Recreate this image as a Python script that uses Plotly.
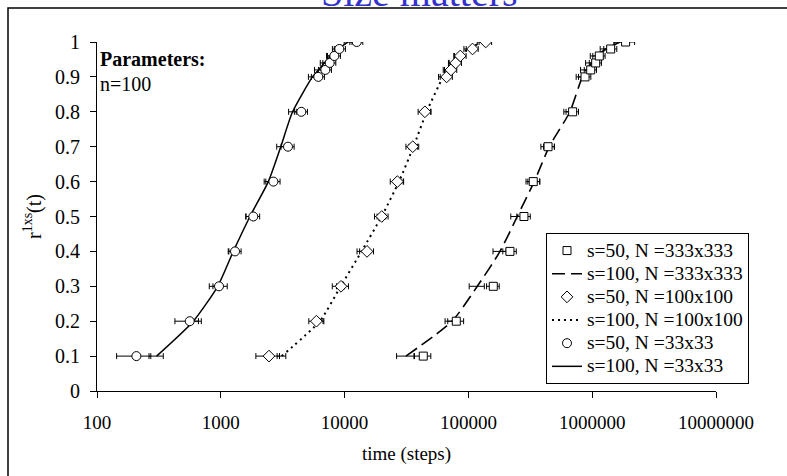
import plotly.graph_objects as go

# ---------------- data ----------------
y_levels = [0.1, 0.2, 0.3, 0.4, 0.5, 0.6, 0.7, 0.8, 0.9, 0.92, 0.94, 0.96, 0.98, 1.0]

# N = 333x333
sq_s50_x = [43200, 79800, 158800, 216600, 281000, 334000, 440000, 695000, 875000, 973000, 1067000, 1141000, 1410000, 1862000]
sq_s50_err = [6500, 11700, 18600, 27000, 35000, 42000, 55000, 80000, 100000, 110000, 120000, 130000, 170000, 340000]
sq_s100_x = [31300, 73800, 118000, 180000, 248000, 340000, 450000, 660000, 832000, 900000, 990000, 1080000, 1300000, 1675000]
sq_s100_err = [5000, 9000, 16500, 22000, 28000, 38000, 45000, 70000, 90000, 95000, 105000, 115000, 140000, 180000]

# N = 100x100
di_s50_x = [2450, 5920, 9350, 15170, 19950, 26680, 35500, 44560, 66700, 72300, 78900, 86000, 108000, 138000]
di_s50_err = [530, 780, 1400, 1950, 2500, 3300, 4200, 5300, 7500, 8200, 9000, 9800, 12000, 16000]
di_s100_x = [3100, 6300, 9300, 13700, 19900, 27500, 36000, 46000, 62400, 68000, 75000, 84000, 100000, 128000]
di_s100_err = [250, 500, 700, 1100, 1600, 2200, 2900, 3600, 5000, 5400, 6000, 6700, 8000, 10000]

# N = 33x33
ci_s50_x = [208, 561, 967, 1303, 1830, 2660, 3490, 4470, 6130, 6990, 7580, 8260, 9060, 12530]
ci_s50_err = [64, 135, 160, 155, 230, 350, 420, 540, 740, 840, 910, 990, 1090, 1500]
ci_s100_x = [303, 600, 944, 1262, 1720, 2420, 3050, 3800, 5500, 6150, 6850, 7700, 8900, 10700]
ci_s100_err = [40, 60, 80, 100, 130, 180, 220, 270, 400, 440, 490, 550, 640, 780]

x_tick_vals = [100, 1000, 10000, 100000, 1000000, 10000000]
x_tick_text = ["100", "1000", "10000", "100000", "1000000", "10000000"]

names = {
    "sq50": "s=50, N =333x333",
    "sq100": "s=100, N =333x333",
    "di50": "s=50, N =100x100",
    "di100": "s=100, N =100x100",
    "ci50": "s=50, N =33x33",
    "ci100": "s=100, N =33x33",
}

FONT = "Liberation Serif, Times New Roman, serif"
LEG_SPAN = "<span style='font-size:19.5px'>{}</span>"


def err(arr):
    return dict(type="data", array=arr, visible=True, color="black", thickness=1, width=3)


fig = go.Figure()

# lines (s=100)
for xs, es, key, dash, lw, rank in [
    (sq_s100_x, sq_s100_err, "sq100", "13px,6px", 1.6, 2),
    (di_s100_x, di_s100_err, "di100", "2px,4px", 2, 4),
    (ci_s100_x, ci_s100_err, "ci100", "solid", 1.5, 6),
]:
    fig.add_trace(go.Scatter(
        x=xs, y=y_levels, mode="lines", name=LEG_SPAN.format(names[key]),
        line=dict(color="black", width=lw, dash=dash, shape="spline", smoothing=0.6),
        error_x=err(es), legendrank=rank,
    ))

# markers (s=50)
for xs, es, key, sym, size, rank in [
    (sq_s50_x, sq_s50_err, "sq50", "square", 8, 1),
    (di_s50_x, di_s50_err, "di50", "diamond", 9, 3),
    (ci_s50_x, ci_s50_err, "ci50", "circle", 9, 5),
]:
    fig.add_trace(go.Scatter(
        x=xs, y=y_levels, mode="markers", name=LEG_SPAN.format(names[key]),
        marker=dict(symbol=sym, size=size, color="white", line=dict(color="black", width=1)),
        error_x=err(es), legendrank=rank,
    ))

PLOT_L, PLOT_T, PLOT_R, PLOT_B = 97, 42, 716, 391
W, H = 787, 476
pw = PLOT_R - PLOT_L
ph = PLOT_B - PLOT_T


def px2x(px):
    return (px - PLOT_L) / pw


def px2y(py):
    return (PLOT_B - py) / ph


fig.update_layout(
    width=W, height=H,
    margin=dict(l=PLOT_L, r=W - PLOT_R, t=PLOT_T, b=H - PLOT_B, autoexpand=False),
    paper_bgcolor="white", plot_bgcolor="white",
    font=dict(family=FONT, size=19, color="black"),
    showlegend=True,
    legend=dict(
        x=px2x(546), y=px2y(384), xanchor="left", yanchor="bottom",
        bordercolor="black", borderwidth=1, bgcolor="white",
        font=dict(family=FONT, size=15.5, color="black"), tracegroupgap=0,
    ),
    xaxis=dict(
        type="log", range=[2, 7], tickvals=x_tick_vals, ticktext=x_tick_text,
        ticks="outside", ticklen=6, tickcolor="black", tickwidth=1,
        showline=True, linecolor="black", linewidth=1, showgrid=False, zeroline=False,
        tickfont=dict(family=FONT, size=19), ticklabelstandoff=8, automargin=False,
        title=dict(text="time (steps)", font=dict(family=FONT, size=19), standoff=14),
    ),
    yaxis=dict(
        range=[0, 1], tick0=0, dtick=0.1,
        ticks="outside", ticklen=6, tickcolor="black", tickwidth=1,
        showline=True, linecolor="black", linewidth=1, showgrid=False, zeroline=False,
        tickfont=dict(family=FONT, size=20), ticklabelstandoff=6, automargin=False,
        title=dict(text="r<sup>1xs</sup>(t)", font=dict(family=FONT, size=20), standoff=8),
    ),
    shapes=[dict(
        type="rect", xref="paper", yref="paper",
        x0=px2x(8), x1=px2x(800), y0=px2y(490), y1=px2y(8),
        line=dict(color="black", width=1.5), fillcolor="rgba(0,0,0,0)", layer="below",
    )],
    annotations=[
        dict(text="Size matters", xref="paper", yref="paper", x=px2x(419.5), y=px2y(16.5),
             xanchor="center", yanchor="bottom", showarrow=False,
             font=dict(family=FONT, size=40, color="#3333cc")),
        dict(text="<b>Parameters:</b>", xref="paper", yref="paper", x=px2x(98), y=px2y(58.5),
             xanchor="left", yanchor="middle", showarrow=False,
             font=dict(family=FONT, size=20, color="black")),
        dict(text="n=100", xref="paper", yref="paper", x=px2x(98), y=px2y(84),
             xanchor="left", yanchor="middle", showarrow=False,
             font=dict(family=FONT, size=20, color="black")),
    ],
)

fig.write_html(
    "out.html",
    config={"displayModeBar": False},
    post_script="document.body.style.margin='0';document.body.style.overflow='hidden';",
)
